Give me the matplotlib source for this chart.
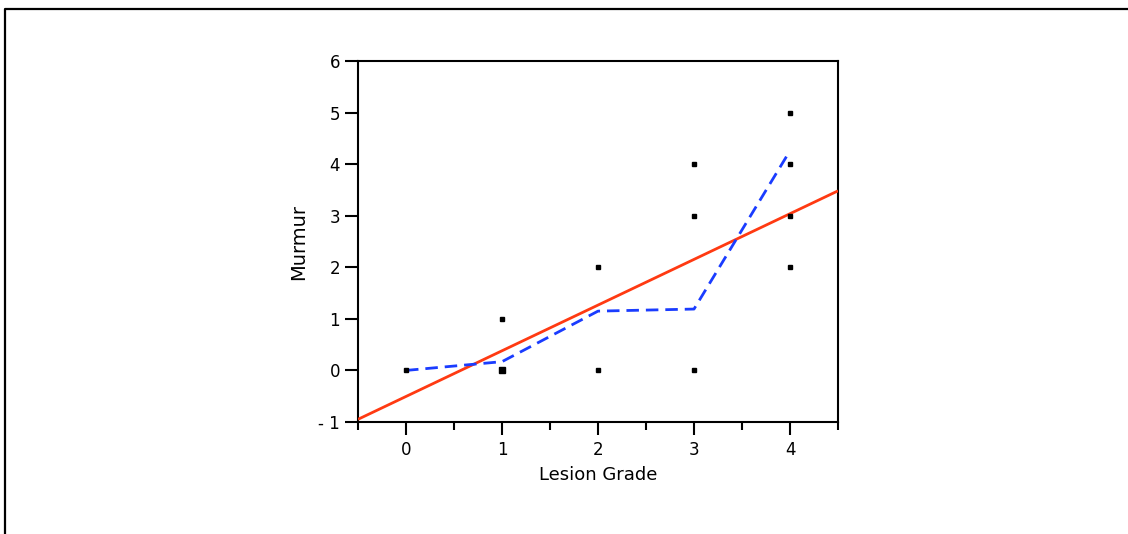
import matplotlib
matplotlib.use("Agg")
import matplotlib.pyplot as plt
from matplotlib.lines import Line2D
import numpy as np

# Data
pt_x = [0, 1, 1, 2, 2, 3, 3, 3, 4, 4, 4, 4]
pt_y = [0, 1, 0, 2, 0, 4, 3, 0, 5, 4, 3, 2]
pt_size = [3, 3, 4.5, 3, 3, 3, 3, 3, 3, 3, 3, 3]

fit_slope = 0.886
fit_intercept = -0.505

smooth_x = [0, 1, 2, 3, 4]
smooth_y = [0.0, 0.17, 1.15, 1.19, 4.26]

xticks = [0, 1, 2, 3, 4]
yticks = [-1, 0, 1, 2, 3, 4, 5, 6]
ytick_labels = ["- 1", "0", "1", "2", "3", "4", "5", "6"]

W, H = 1128, 534
fig = plt.figure(figsize=(W / 100, H / 100), dpi=100)
plt.rcParams['font.family'] = ['DejaVu Sans']

# outer frame (left and top edges)
fig.add_artist(Line2D([5 / W, 5 / W, 1.0], [0.0, 1 - 9 / H, 1 - 9 / H],
                      transform=fig.transFigure, color='black', lw=1.6))

ax = fig.add_axes([358 / W, 1 - 422 / H, (838 - 358) / W, (422 - 61) / H])
ax.set_xlim(-0.5, 4.5)
ax.set_ylim(-1, 6)

for s in ax.spines.values():
    s.set_linewidth(1.5)

# regression line
xl = np.array(ax.get_xlim())
ax.plot(xl, fit_slope * xl + fit_intercept, color='#ff3a12', lw=2.0, zorder=3,
        solid_capstyle='butt')
# smoother
ax.plot(smooth_x, smooth_y, color='#1a3cff', lw=2.0, ls=(0, (4.5, 2.5)), zorder=4)

for x, y, s in zip(pt_x, pt_y, pt_size):
    ax.plot([x], [y], marker='s', ms=s, color='black', ls='none', zorder=5)

ax.set_xticks(xticks)
ax.set_xticks([-0.5, 0.5, 1.5, 2.5, 3.5, 4.5], minor=True)
ax.set_yticks(yticks)
ax.set_yticklabels(ytick_labels)
ax.tick_params(axis='both', which='major', direction='out', length=9.5, width=1.5,
               labelsize=12, colors='black')
ax.tick_params(axis='x', which='minor', direction='out', length=5.5, width=1.5)
ax.tick_params(axis='x', which='major', pad=4)

ax.set_xlabel("Lesion Grade", fontsize=13, labelpad=5)
ax.set_ylabel("Murmur", fontsize=14, labelpad=7)

fig.savefig("out.png", dpi=100)
